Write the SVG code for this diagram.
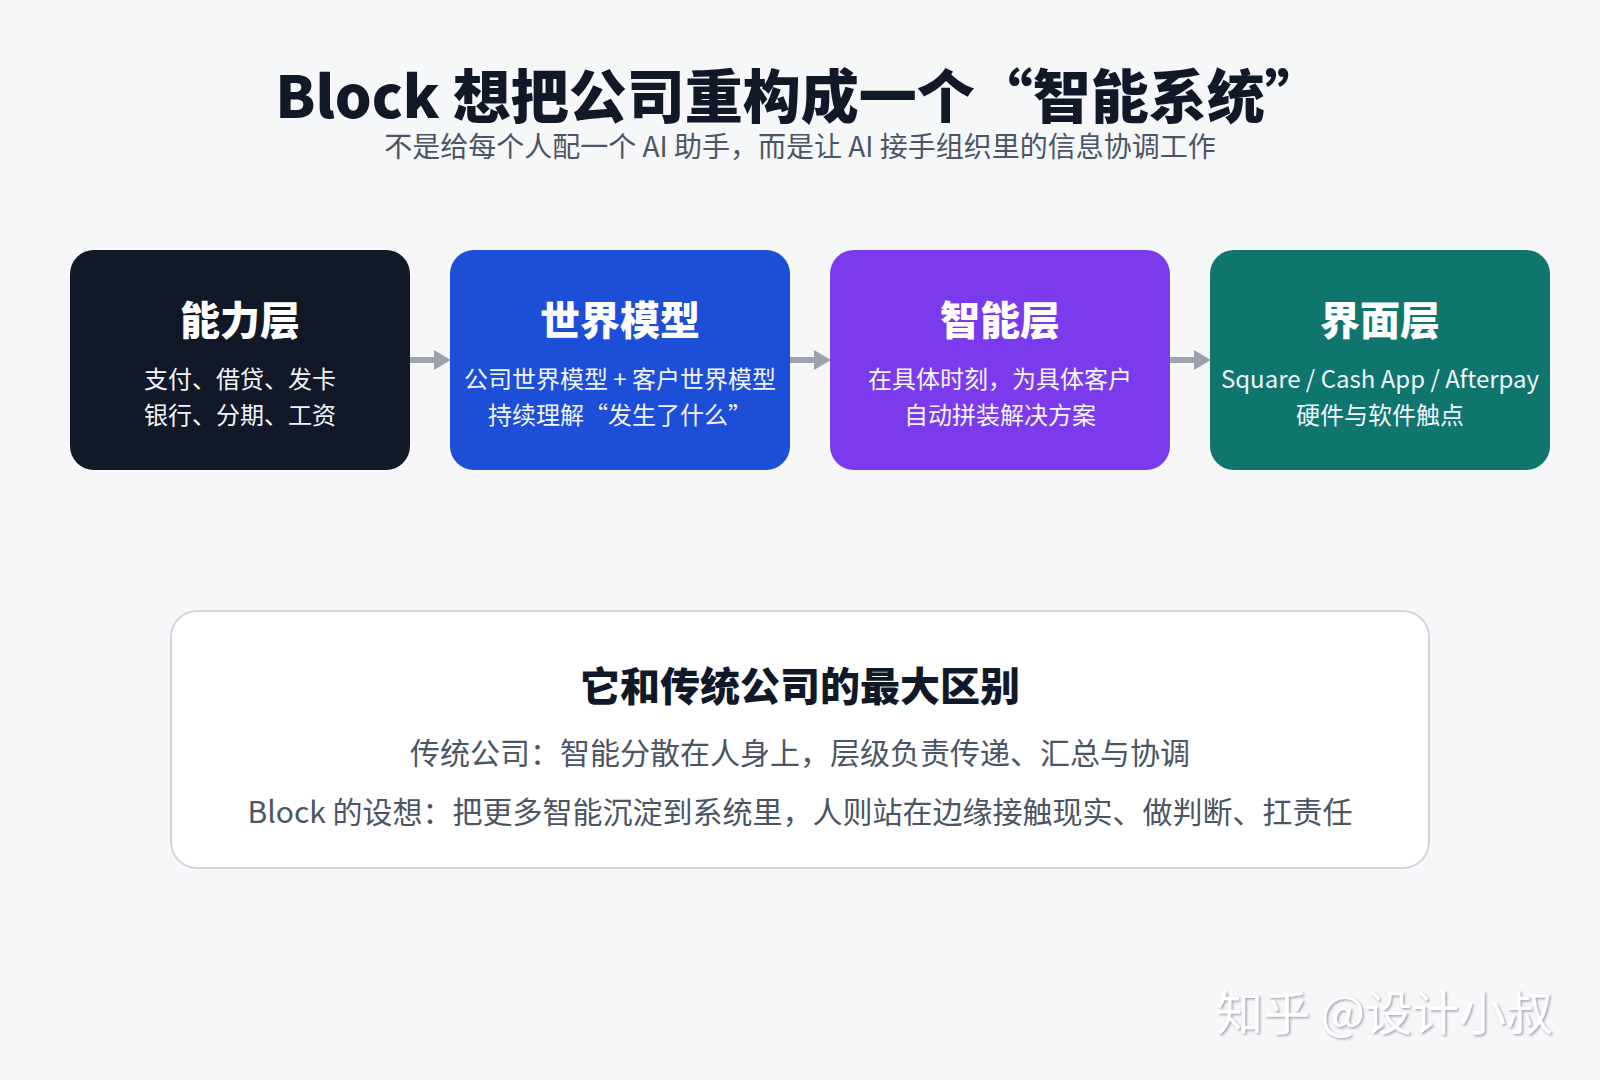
<svg xmlns="http://www.w3.org/2000/svg" width="1600" height="1080" viewBox="0 0 1600 1080">
<defs>
<style>
text{font-family:"Noto Sans CJK SC","Noto Sans",sans-serif;text-anchor:middle}
.title{font-size:58px;font-weight:900;fill:#111827}
.sub{font-size:28px;font-weight:400;fill:#4b5563}
.nt{font-size:40px;font-weight:900;fill:#ffffff}
.nd{font-size:24px;font-weight:400;fill:#f1f5f9}
.bt{font-size:40px;font-weight:900;fill:#111827}
.bd{font-size:30px;font-weight:400;fill:#4b5563}
.conn{stroke:#9ca3af;stroke-width:6;fill:none}
.wm{font-size:47px;font-weight:400;fill:#ffffff;text-anchor:start}
</style>
<marker id="ah" viewBox="0 0 17 20" refX="0" refY="10" markerWidth="17" markerHeight="20" markerUnits="userSpaceOnUse" orient="auto">
<path d="M0,0 L17,10 L0,20 z" fill="#9ca3af"/>
</marker>
<filter id="sh" x="-10%" y="-20%" width="120%" height="140%">
<feDropShadow dx="1.5" dy="1.5" stdDeviation="0.8" flood-color="#9aa0a8" flood-opacity="0.9"/>
</filter>
</defs>
<rect x="0" y="0" width="1600" height="1080" fill="#f6f7f9"/>

<g id="header">
<text class="title" x="799" y="118">Block 想把公司重构成一个“智能系统”</text>
<text class="sub" x="800" y="157">不是给每个人配一个 AI 助手，而是让 AI 接手组织里的信息协调工作</text>
</g>

<g id="connectors">
<line class="conn" x1="410" y1="360" x2="434" y2="360" marker-end="url(#ah)"/>
<line class="conn" x1="790" y1="360" x2="814" y2="360" marker-end="url(#ah)"/>
<line class="conn" x1="1170" y1="360" x2="1194" y2="360" marker-end="url(#ah)"/>
</g>

<g id="node-capability">
<rect x="70" y="250" width="340" height="220" rx="24" fill="#111827"/>
<text class="nt" x="240" y="335">能力层</text>
<text class="nd" x="240" y="388">支付、借贷、发卡</text>
<text class="nd" x="240" y="424">银行、分期、工资</text>
</g>

<g id="node-world-model">
<rect x="450" y="250" width="340" height="220" rx="24" fill="#1d4ed8"/>
<text class="nt" x="620" y="335">世界模型</text>
<text class="nd" x="620" y="388">公司世界模型 + 客户世界模型</text>
<text class="nd" x="620" y="424">持续理解“发生了什么”</text>
</g>

<g id="node-intelligence">
<rect x="830" y="250" width="340" height="220" rx="24" fill="#7c3aed"/>
<text class="nt" x="1000" y="335">智能层</text>
<text class="nd" x="1000" y="388">在具体时刻，为具体客户</text>
<text class="nd" x="1000" y="424">自动拼装解决方案</text>
</g>

<g id="node-interface">
<rect x="1210" y="250" width="340" height="220" rx="24" fill="#0f766e"/>
<text class="nt" x="1380" y="335">界面层</text>
<text class="nd" x="1380" y="388">Square / Cash App / Afterpay</text>
<text class="nd" x="1380" y="424">硬件与软件触点</text>
</g>

<g id="node-difference">
<rect x="171" y="611" width="1258" height="257" rx="26" fill="#ffffff" stroke="#d1d5db" stroke-width="2"/>
<text class="bt" x="800" y="701">它和传统公司的最大区别</text>
<text class="bd" x="800" y="764">传统公司：智能分散在人身上，层级负责传递、汇总与协调</text>
<text class="bd" x="800" y="823">Block 的设想：把更多智能沉淀到系统里，人则站在边缘接触现实、做判断、扛责任</text>
</g>

<g id="watermark">
<text class="wm" x="1216" y="1030" filter="url(#sh)">知乎 @设计小叔</text>
</g>
</svg>
